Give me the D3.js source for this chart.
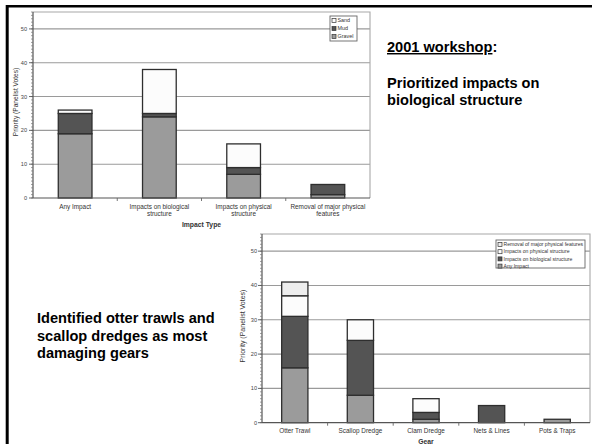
<!DOCTYPE html>
<html>
<head>
<meta charset="utf-8">
<script src="https://cdn.jsdelivr.net/npm/d3@7"></script>
<style>
  html, body { margin: 0; padding: 0; background: #fff; }
  svg { display: block; font-family: Arial, "Liberation Sans", Helvetica, sans-serif; }
</style>
</head>
<body>
<svg id="slide" width="592" height="444"></svg>
<script>
// ---- Chart 1: priority votes by impact type, split by substrate ----
const impactTypes = ["Any Impact", "Impacts on biological structure", "Impacts on physical structure", "Removal of major physical features"];
const impactTypeLines = [["Any Impact"], ["Impacts on biological", "structure"], ["Impacts on physical", "structure"], ["Removal of major physical", "features"]];
const substrates = ["Gravel", "Mud", "Sand"];
const gravelVotes = [19, 24, 7, 1];
const mudVotes = [6, 1, 2, 3];
const sandVotes = [1, 13, 7, 0];

// ---- Chart 2: priority votes by gear, split by impact type ----
const gears = ["Otter Trawl", "Scallop Dredge", "Clam Dredge", "Nets & Lines", "Pots & Traps"];
const impactSeries = ["Any Impact", "Impacts on biological structure", "Impacts on physical structure", "Removal of major physical features"];
const anyImpactVotes = [16, 8, 1, 0, 1];
const biologicalVotes = [15, 16, 2, 5, 0];
const physicalVotes = [6, 6, 4, 0, 0];
const removalVotes = [4, 0, 0, 0, 0];

const yTicks = [0, 10, 20, 30, 40, 50];
const yMax = 55;

const svg = d3.select("#slide");
svg.append("rect").attr("width", 592).attr("height", 444).attr("fill", "#fff");

// slide frame (top and left rules)
svg.append("line").attr("x1", 6).attr("x2", 592).attr("y1", 6.2).attr("y2", 6.2)
  .attr("stroke", "#000").attr("stroke-width", 2.6);
svg.append("line").attr("x1", 7.2).attr("x2", 7.2).attr("y1", 5).attr("y2", 444)
  .attr("stroke", "#000").attr("stroke-width", 3);

function drawStackedChart(cfg) {
  const g = svg.append("g");
  const x = d3.scaleBand().domain(cfg.categories).range([cfg.left, cfg.right])
    .paddingInner(0.6).paddingOuter(0.3);
  const y = d3.scaleLinear().domain([0, yMax]).range([cfg.bottom, cfg.top]);

  // gridlines
  g.selectAll(".grid").data(yTicks.filter(t => t > 0)).join("line")
    .attr("x1", cfg.left).attr("x2", cfg.right)
    .attr("y1", d => y(d)).attr("y2", d => y(d))
    .attr("stroke", "#9a9a9a").attr("stroke-width", 1.1);
  // plot frame top and right
  g.append("path")
    .attr("d", `M${cfg.left},${y(yMax)}H${cfg.right}V${y(0)}`)
    .attr("fill", "none").attr("stroke", "#a8a8a8").attr("stroke-width", 1.1);

  // stacked bars
  const rows = cfg.categories.map((c, i) => {
    const r = { cat: c };
    cfg.keys.forEach((k, j) => { r[k] = cfg.values[j][i]; });
    return r;
  });
  const stacked = d3.stack().keys(cfg.keys)(rows);
  stacked.forEach((layer, j) => {
    g.selectAll(null).data(layer.filter(d => d[1] > d[0])).join("rect")
      .attr("x", d => x(d.data.cat))
      .attr("width", x.bandwidth())
      .attr("y", d => y(d[1]))
      .attr("height", d => y(d[0]) - y(d[1]))
      .attr("fill", cfg.colors[j])
      .attr("stroke", "#2e2e2e").attr("stroke-width", 1.3);
  });

  // y axis with minor ticks
  const axis = g.append("g").attr("transform", `translate(${cfg.left},0)`);
  axis.append("line").attr("x1", 0).attr("x2", 0).attr("y1", y(yMax)).attr("y2", y(0))
    .attr("stroke", "#555").attr("stroke-width", 1.2);
  axis.selectAll(".minor").data(d3.range(0, yMax + 1, 1)).join("line")
    .attr("x1", -2).attr("x2", 0).attr("y1", d => y(d)).attr("y2", d => y(d))
    .attr("stroke", "#777").attr("stroke-width", 0.7);
  axis.selectAll(".major").data(yTicks).join("line")
    .attr("x1", -4).attr("x2", 0).attr("y1", d => y(d)).attr("y2", d => y(d))
    .attr("stroke", "#555").attr("stroke-width", 0.9);
  axis.selectAll(".tl").data(yTicks).join("text")
    .attr("x", -cfg.tickGap).attr("y", d => y(d)).attr("dy", "0.35em")
    .attr("text-anchor", "end").attr("font-size", 5.6).attr("fill", "#444")
    .text(d => d);

  // x axis line and category separators
  g.append("line").attr("x1", cfg.left).attr("x2", cfg.right).attr("y1", y(0)).attr("y2", y(0))
    .attr("stroke", "#555").attr("stroke-width", 1.2);
  g.selectAll(".sep").data(d3.range(1, cfg.categories.length)).join("line")
    .attr("x1", i => cfg.left + i * x.step()).attr("x2", i => cfg.left + i * x.step())
    .attr("y1", y(0)).attr("y2", y(0) + 3)
    .attr("stroke", "#666").attr("stroke-width", 0.9);

  // category labels
  cfg.categories.forEach((c, i) => {
    const t = g.append("text")
      .attr("x", x(c) + x.bandwidth() / 2).attr("y", y(0) + cfg.labelOffset)
      .attr("text-anchor", "middle").attr("font-size", 6.4).attr("fill", "#333");
    cfg.labelLines[i].forEach((ln, k) => {
      t.append("tspan").attr("x", x(c) + x.bandwidth() / 2).attr("dy", k === 0 ? 0 : 7.2).text(ln);
    });
  });

  // axis titles
  g.append("text").attr("x", (cfg.left + cfg.right) / 2).attr("y", cfg.xTitleY)
    .attr("text-anchor", "middle").attr("font-size", 6.8).attr("font-weight", "bold")
    .attr("fill", "#333").text(cfg.xTitle);
  g.append("text")
    .attr("transform", `translate(${cfg.yTitleX},${cfg.yTitleY}) rotate(-90)`)
    .attr("text-anchor", "middle").attr("font-size", cfg.yTitleSize).attr("fill", "#333")
    .text("Priority (Panelist Votes)");

  // legend (top-down reverses stacking order)
  const lg = g.append("g");
  lg.append("rect").attr("x", cfg.legend.x).attr("y", cfg.legend.y)
    .attr("width", cfg.legend.w).attr("height", cfg.legend.h)
    .attr("fill", "#fff").attr("stroke", "#666").attr("stroke-width", 0.9);
  const order = cfg.keys.map((k, j) => j).reverse();
  order.forEach((j, n) => {
    const cy = cfg.legend.y + 4.5 + n * cfg.legend.step;
    lg.append("rect").attr("x", cfg.legend.x + 2).attr("y", cy - 2)
      .attr("width", 4).attr("height", 4)
      .attr("fill", cfg.colors[j]).attr("stroke", "#333").attr("stroke-width", 0.7);
    lg.append("text").attr("x", cfg.legend.x + 7.5).attr("y", cy).attr("dy", "0.35em")
      .attr("font-size", cfg.legend.font).attr("fill", "#333").text(cfg.keys[j]);
  });
}

drawStackedChart({
  categories: impactTypes, labelLines: impactTypeLines,
  keys: substrates, values: [gravelVotes, mudVotes, sandVotes],
  colors: ["#9b9b9b", "#545454", "#fcfcfc"],
  left: 33, right: 370, top: 12, bottom: 198,
  tickGap: 6, labelOffset: 11, xTitle: "Impact Type", xTitleY: 226.5,
  yTitleX: 17.5, yTitleY: 102, yTitleSize: 6.6,
  legend: { x: 330, y: 16, w: 27, h: 25, step: 8, font: 5.4 }
});

drawStackedChart({
  categories: gears, labelLines: gears.map(d => [d]),
  keys: impactSeries, values: [anyImpactVotes, biologicalVotes, physicalVotes, removalVotes],
  colors: ["#9b9b9b", "#545454", "#fcfcfc", "#eeeeee"],
  left: 262, right: 590, top: 234, bottom: 422.7,
  tickGap: 5, labelOffset: 10.5, xTitle: "Gear", xTitleY: 443.5,
  yTitleX: 245, yTitleY: 326, yTitleSize: 7,
  legend: { x: 496, y: 240, w: 89, h: 28, step: 7.2, font: 5.1 }
});

// slide text
const bodyFont = 14.6;
const t1 = svg.append("text").attr("x", 387).attr("y", 52)
  .attr("font-size", bodyFont).attr("font-weight", "bold").attr("fill", "#000");
t1.append("tspan").attr("text-decoration", "underline").text("2001 workshop");
t1.append("tspan").text(":");

const rightLines = ["Prioritized impacts on", "biological structure"];
svg.append("g").selectAll("text").data(rightLines).join("text")
  .attr("x", 387).attr("y", (d, i) => 87.7 + i * 17.6)
  .attr("font-size", bodyFont).attr("font-weight", "bold").attr("fill", "#000")
  .text(d => d);

const leftLines = ["Identified otter trawls and", "scallop dredges as most", "damaging gears"];
svg.append("g").selectAll("text").data(leftLines).join("text")
  .attr("x", 37).attr("y", (d, i) => 323.3 + i * 17.3)
  .attr("font-size", bodyFont).attr("font-weight", "bold").attr("fill", "#000")
  .text(d => d);
</script>
</body>
</html>
